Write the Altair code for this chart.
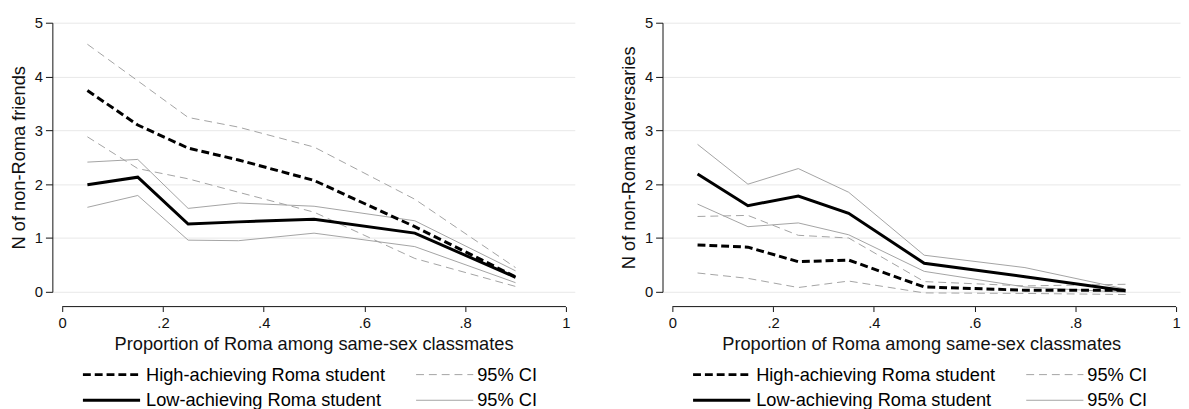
import altair as alt
import pandas as pd

# ---------------- data ----------------
x_vals = [0.05, 0.15, 0.25, 0.35, 0.5, 0.7, 0.9]

# Left panel: N of non-Roma friends
fr_high = [3.74, 3.10, 2.67, 2.45, 2.07, 1.21, 0.28]
fr_high_up = [4.60, 3.92, 3.24, 3.06, 2.69, 1.72, 0.45]
fr_high_lo = [2.88, 2.29, 2.10, 1.85, 1.48, 0.62, 0.10]
fr_low = [1.99, 2.13, 1.26, 1.30, 1.35, 1.09, 0.27]
fr_low_up = [2.41, 2.46, 1.55, 1.65, 1.59, 1.32, 0.39]
fr_low_lo = [1.57, 1.79, 0.96, 0.95, 1.09, 0.84, 0.17]

# Right panel: N of non-Roma adversaries
ad_high = [0.87, 0.83, 0.56, 0.59, 0.09, 0.03, 0.03]
ad_high_up = [1.40, 1.42, 1.05, 1.00, 0.19, 0.11, 0.14]
ad_high_lo = [0.35, 0.25, 0.08, 0.20, -0.02, -0.03, -0.05]
ad_low = [2.19, 1.60, 1.78, 1.46, 0.53, 0.28, 0.02]
ad_low_up = [2.74, 2.00, 2.29, 1.85, 0.68, 0.45, 0.05]
ad_low_lo = [1.63, 1.21, 1.28, 1.06, 0.38, 0.09, -0.01]

x_ticks = [0, 0.2, 0.4, 0.6, 0.8, 1]
y_ticks = [0, 1, 2, 3, 4, 5]
x_title = "Proportion of Roma among same-sex classmates"
y_titles = ["N of non-Roma friends", "N of non-Roma adversaries"]
legend_labels = ["High-achieving Roma student", "95% CI",
                 "Low-achieving Roma student", "95% CI"]

# ---------------- styling ----------------
FONT = "Liberation Sans"
PLOT_H = 273
CI_COLOR = "#a3a3a3"
MAIN_DASH = [8, 4]
CI_DASH = [8, 5]


def lines_df(series):
    rows = []
    for name, vals in series.items():
        for xv, yv in zip(x_vals, vals):
            rows.append({"x": xv, "y": yv, "line": name})
    return pd.DataFrame(rows)


def panel(high, hu, hl, low, lu, ll, ytitle, width):
    # x scale: 0 sits 10px right of the plot's left edge, 511px per unit
    xmin = -10 / 511
    xmax = (width - 10) / 511
    X = alt.X("x:Q",
              scale=alt.Scale(domain=[xmin, xmax], nice=False, zero=False),
              axis=alt.Axis(values=x_ticks, title=x_title, offset=15,
                            domain=False, grid=False, tickSize=5,
                            labelPadding=4, titlePadding=5, labelFlush=False,
                            labelExpr="datum.value == 0 ? '0' : datum.value == 1 ? '1' : replace(format(datum.value, '.1f'), '0.', '.')"))
    Y = alt.Y("y:Q",
              scale=alt.Scale(domain=[0, 5], nice=False, zero=False),
              axis=alt.Axis(values=y_ticks, title=ytitle, grid=True,
                            tickSize=7, labelPadding=3, titlePadding=6,
                            labelAngle=0, labelFlush=False))

    ci_dash = alt.Chart(lines_df({"hu": hu, "hl": hl})).mark_line(
        color=CI_COLOR, strokeWidth=1, strokeDash=CI_DASH
    ).encode(x=X, y=Y, detail="line:N")
    ci_solid = alt.Chart(lines_df({"lu": lu, "ll": ll})).mark_line(
        color=CI_COLOR, strokeWidth=1
    ).encode(x=X, y=Y, detail="line:N")
    main_dash = alt.Chart(lines_df({"high": high})).mark_line(
        color="black", strokeWidth=3, strokeDash=MAIN_DASH
    ).encode(x=X, y=Y)
    main_solid = alt.Chart(lines_df({"low": low})).mark_line(
        color="black", strokeWidth=3
    ).encode(x=X, y=Y)

    # x axis line spanning 0..1 only (offset below the plot)
    axis_line = alt.Chart(pd.DataFrame({"x": [0], "x2": [1]})).mark_rule(
        color="#111", strokeWidth=1
    ).encode(x=X, x2="x2:Q", y=alt.value(PLOT_H + 15))

    # manual legend (two columns, two rows)
    styles = [
        dict(color="black", strokeWidth=3, strokeDash=MAIN_DASH),
        dict(color=CI_COLOR, strokeWidth=1, strokeDash=CI_DASH),
        dict(color="black", strokeWidth=3),
        dict(color=CI_COLOR, strokeWidth=1),
    ]
    sym_x = [31, 369]
    sym_len = 58
    txt_x = [95, 431]
    row_y = [PLOT_H + 84, PLOT_H + 110]
    leg_layers = []
    one = alt.InlineData(values=[{"k": 0}])
    for i, lab in enumerate(legend_labels):
        c, r = i % 2, i // 2
        leg_layers.append(
            alt.Chart(one).mark_rule(**styles[i]).encode(
                x=alt.value(sym_x[c]), x2=alt.value(sym_x[c] + sym_len),
                y=alt.value(row_y[r]))
        )
        leg_layers.append(
            alt.Chart(one).mark_text(
                text=lab, align="left", baseline="middle", fontSize=18.5,
                font=FONT, color="black"
            ).encode(x=alt.value(txt_x[c]), y=alt.value(row_y[r]))
        )

    return alt.layer(ci_dash, ci_solid, main_dash, main_solid, axis_line,
                     *leg_layers).properties(width=width, height=PLOT_H)


left = panel(fr_high, fr_high_up, fr_high_lo, fr_low, fr_low_up, fr_low_lo,
             y_titles[0], 530)
right = panel(ad_high, ad_high_up, ad_high_lo, ad_low, ad_low_up, ad_low_lo,
              y_titles[1], 525)

chart = alt.hconcat(left, right, spacing=89, bounds="flush").properties(
    padding={"left": 1, "top": 5, "right": 0, "bottom": 0},
    background="white",
).configure_view(stroke=None).configure_axis(
    labelFont=FONT, titleFont=FONT, labelFontSize=15, titleFontSize=18.5,
    titleFontWeight="normal", labelColor="#111", titleColor="#111",
    domainColor="#111", tickColor="#111", gridColor="#e8e8e8",
    domainWidth=1, tickWidth=1, gridWidth=1,
)

chart.save("out.html", embed_options={"renderer": "svg", "actions": False})
